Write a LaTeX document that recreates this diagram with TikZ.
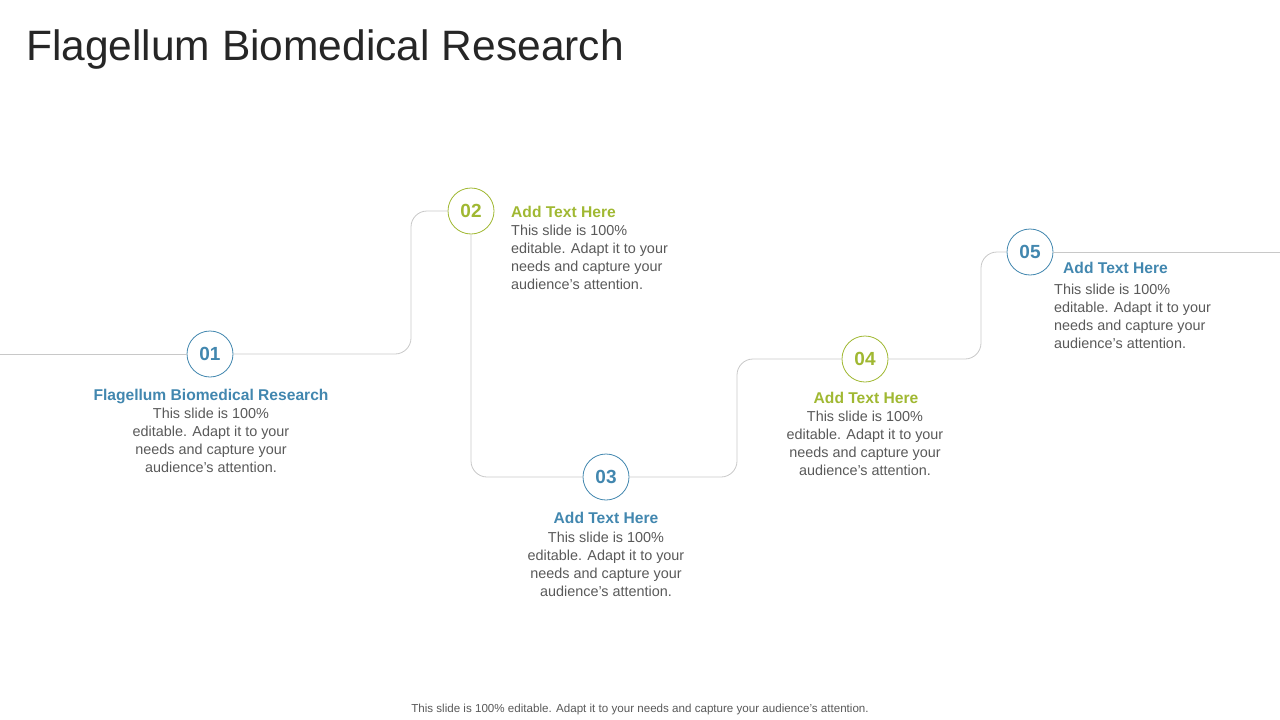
\documentclass[tikz,border=0pt]{standalone}
\usepackage{fontspec}
\setmainfont{Liberation Sans}
\definecolor{cg}{RGB}{160,184,50}
\definecolor{cb}{RGB}{66,135,175}
\definecolor{ln}{RGB}{200,200,200}
\definecolor{tx}{RGB}{89,89,89}
\begin{document}
\begin{tikzpicture}[x=1pt,y=-1pt,
  circ/.style={circle,draw=#1,fill=white,line width=0.8pt,minimum size=46pt,inner sep=0pt,text=#1,font=\fontsize{19}{22}\selectfont\bfseries},
  head/.style={text=#1,font=\fontsize{15.6}{18}\selectfont\bfseries,inner sep=0pt},
  body/.style={text=tx,font=\fontsize{14.4}{17.8}\selectfont,inner sep=0pt,align=#1},
  conn/.style={draw=ln,line width=0.8pt,rounded corners=16pt}]
\useasboundingbox (0,0) rectangle (1280,720);
\node[anchor=west,inner sep=0pt,font=\fontsize{42.5}{48}\selectfont,text={rgb,255:red,38;green,38;blue,38}] (title) at (26,50) {Flagellum Biomedical Research};
\coordinate (L) at (0,354);
\coordinate (R) at (1280,252);
\node[circ=cb] (c1) at (210,354) {01};
\node[circ=cg] (c2) at (471,211) {02};
\node[circ=cb] (c3) at (606,477) {03};
\node[circ=cg] (c4) at (865,359) {04};
\node[circ=cb] (c5) at (1030,252) {05};
\draw[conn] (L) -- (c1);
\draw[conn] (c1.east) -- (411,354) -- (411,211) -- (c2.west);
\draw[conn] (c2.south) -- (471,477) -- (c3.west);
\draw[conn] (c3.east) -- (737,477) -- (737,359) -- (c4.west);
\draw[conn] (c4.east) -- (981,359) -- (981,252) -- (c5.west);
\draw[conn] (c5.east) -- (R);
\node[head=cb] (h1) at (211,396) {Flagellum Biomedical Research};
\node[body=center,anchor=north] (b1) at (211,408) {This slide is 100\%\\editable. Adapt it to your\\needs and capture your\\audience's attention.};
\node[head=cg,anchor=west] (h2) at (511,212) {Add Text Here};
\node[body=left,anchor=north west] (b2) at (511,225) {This slide is 100\%\\editable. Adapt it to your\\needs and capture your\\audience's attention.};
\node[head=cb] (h3) at (606,518) {Add Text Here};
\node[body=center,anchor=north] (b3) at (606,532) {This slide is 100\%\\editable. Adapt it to your\\needs and capture your\\audience's attention.};
\node[head=cg] (h4) at (866,398) {Add Text Here};
\node[body=center,anchor=north] (b4) at (865,411) {This slide is 100\%\\editable. Adapt it to your\\needs and capture your\\audience's attention.};
\node[head=cb,anchor=west] (h5) at (1063,268) {Add Text Here};
\node[body=left,anchor=north west] (b5) at (1054,284) {This slide is 100\%\\editable. Adapt it to your\\needs and capture your\\audience's attention.};
\node[text=tx,font=\fontsize{11.6}{13}\selectfont,inner sep=0pt] (foot) at (640,709) {This slide is 100\% editable. Adapt it to your needs and capture your audience's attention.};
\end{tikzpicture}
\end{document}
